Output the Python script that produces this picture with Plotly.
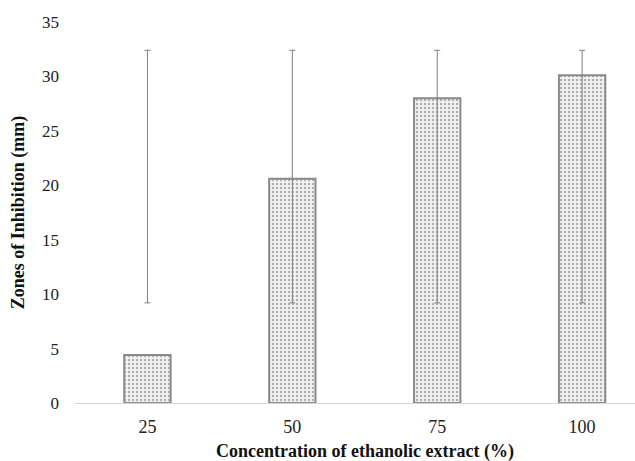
import plotly.graph_objects as go

categories = ["25", "50", "75", "100"]
values = [4.4, 20.6, 28.0, 30.1]
err_low = [9.2, 9.2, 9.2, 9.2]
err_high = [32.4, 32.4, 32.4, 32.4]

fig = go.Figure()
fig.add_trace(go.Bar(
    x=categories, y=values,
    marker=dict(color="white",
                line=dict(color="#8a8a8a", width=2),
                pattern=dict(shape=".", fgcolor="#6a6a6a", bgcolor="#f3f3f3",
                             size=4, solidity=0.3)),
    showlegend=False,
))
fig.add_trace(go.Scatter(
    x=categories, y=err_high, mode="markers",
    marker=dict(size=0.1, color="rgba(0,0,0,0)"),
    error_y=dict(type="data", symmetric=False,
                 array=[0] * len(categories),
                 arrayminus=[h - l for h, l in zip(err_high, err_low)],
                 color="#7f7f7f", thickness=1, width=3),
    showlegend=False, hoverinfo="skip",
))

font = "Liberation Serif, Times New Roman, serif"
fig.update_layout(
    width=635, height=461,
    margin=dict(l=74.5, r=0, t=22, b=58),
    paper_bgcolor="white", plot_bgcolor="white",
    bargap=0.68,
    font=dict(family=font, size=17, color="#222222"),
    xaxis=dict(range=[-0.5, 3.365], showgrid=False, showline=True,
               linecolor="#d9d9d9", linewidth=1, ticks="",
               ticklabelstandoff=7, tickfont=dict(size=18)),
    yaxis=dict(range=[0, 35], dtick=5, showgrid=False, zeroline=False,
               showline=False, ticks="", ticklabelstandoff=15,
               tickfont=dict(size=17),
               title=dict(text="<b>Zones of Inhibition (mm)</b>",
                          font=dict(size=18, color="#111111"), standoff=12)),
    annotations=[dict(text="<b>Concentration of ethanolic extract (%)</b>",
                      xref="x", yref="paper", x=1.5, y=0, yshift=-48,
                      yanchor="middle", showarrow=False,
                      font=dict(size=18, color="#111111"))],
)
fig.write_html("out.html")
